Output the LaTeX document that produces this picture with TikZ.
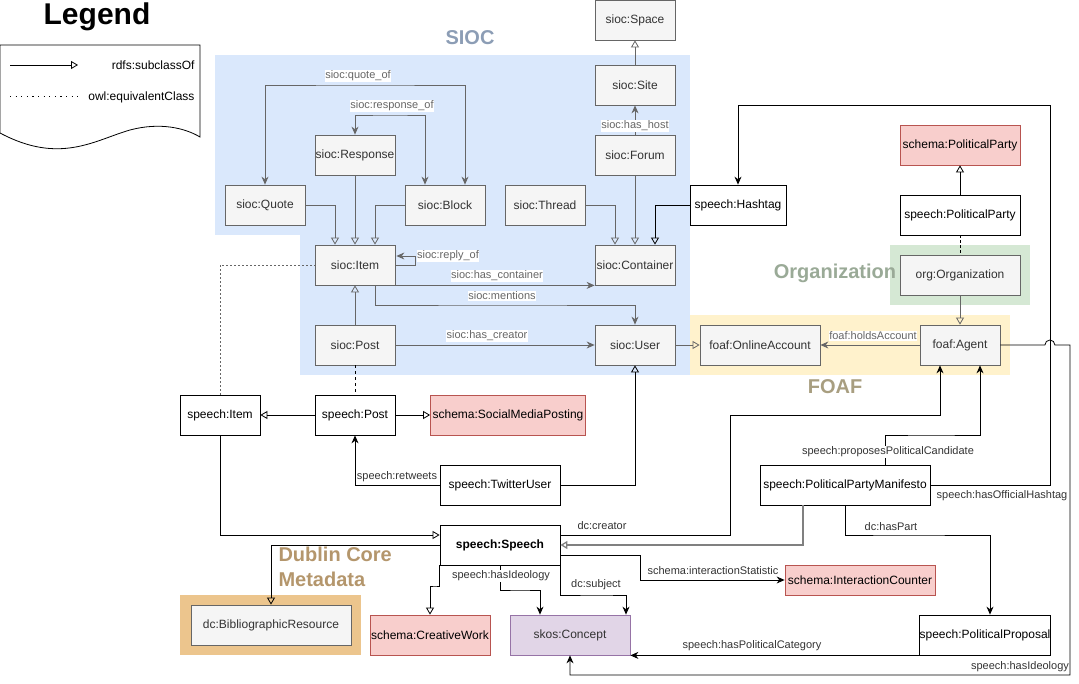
\documentclass[tikz,border=0pt]{standalone}
\usepackage{fontspec}
\setmainfont{Liberation Sans}
\usetikzlibrary{arrows.meta}
\definecolor{siocbg}{HTML}{DAE8FC}
\definecolor{foafbg}{HTML}{FFF2CC}
\definecolor{orgbg}{HTML}{D5E8D4}
\definecolor{dcbg}{RGB}{236,197,141}
\definecolor{gfill}{HTML}{F5F5F5}
\definecolor{gdraw}{HTML}{666666}
\definecolor{gtext}{HTML}{333333}
\definecolor{redfill}{HTML}{F8CECC}
\definecolor{reddraw}{HTML}{B85450}
\definecolor{purfill}{HTML}{E1D5E7}
\definecolor{purdraw}{HTML}{9673A6}
\definecolor{siocttl}{RGB}{140,157,181}
\definecolor{orgttl}{RGB}{154,170,151}
\definecolor{foafttl}{RGB}{168,158,128}
\definecolor{dcttl}{RGB}{180,150,108}
\newcommand{\fsz}[1]{\fontsize{#1}{#1}\selectfont}
\begin{document}
\begin{tikzpicture}[x=1pt,y=-1pt,
  box/.style={draw, minimum width=80pt, minimum height=40pt, inner sep=0pt, font=\fsz{12}, line width=0.8pt},
  siocbox/.style={box, draw=gdraw, fill=gfill, text=gtext},
  spbox/.style={box, draw=black, fill=white, text=black},
  schemabox/.style={box, draw=reddraw, fill=redfill, text=black},
  skosbox/.style={box, draw=purdraw, fill=purfill, text=gtext},
  relg/.style={draw=gdraw, line width=0.8pt, -{Stealth[length=8pt,width=7pt]}},
  relk/.style={draw=black, line width=0.8pt, -{Stealth[length=8pt,width=7pt]}},
  subg/.style={draw=gdraw, line width=0.8pt, -{Triangle[open,length=7pt,width=8pt]}},
  subk/.style={draw=black, line width=0.8pt, -{Triangle[open,length=7pt,width=8pt]}},
  lblg/.style={fill=white, text=gdraw, font=\fsz{11}, inner sep=0.5pt},
  lblk/.style={text=gtext, font=\fsz{11}, inner sep=0.5pt},
  lblkw/.style={lblk, fill=white},
  ttl/.style={font=\bfseries\fsz{20}},
]
\useasboundingbox (0,0) rectangle (1079,684);
% backgrounds
\fill[siocbg] (215,55) rectangle (690,235);
\fill[siocbg] (300,235) rectangle (690,375);
\fill[foafbg] (690,315) rectangle (1010,375);
\fill[orgbg] (890,245) rectangle (1030,305);
\fill[dcbg] (180,595) rectangle (361,655);
\node[ttl, text=siocttl] (tsioc) at (470,38) {SIOC};
\node[ttl, text=orgttl] (torg) at (835,273) {Organization};
\node[ttl, text=foafttl] (tfoaf) at (835,387) {FOAF};
\node[font=\bfseries\fontsize{20}{25}\selectfont, text=dcttl, align=left, anchor=west] (tdc) at (275,567) {Dublin Core\\Metadata};
% legend
\node[font=\bfseries\fsz{30}] (legend) at (97,17) {Legend};
\draw[line width=0.8pt, fill=white] (0,45) -- (200,45) -- (200,137)
  .. controls (185,128) and (160,122) .. (130,130)
  .. controls (95,140) and (60,165) .. (0,133) -- cycle;
\coordinate (l1a) at (10,65); \coordinate (l1b) at (78,65);
\coordinate (l2a) at (10,97); \coordinate (l2b) at (78,97);
\draw[subk] (l1a) -- (l1b);
\draw[line width=1pt, dash pattern=on 1.2pt off 4.4pt] (l2a) -- (l2b);
\node[font=\fsz{12}, anchor=east] (lt1) at (198,65) {rdfs:subclassOf};
\node[font=\fsz{12}, anchor=east] (lt2) at (198,97) {owl:equivalentClass};
% nodes
\node[siocbox] (space) at (635,20) {sioc:Space};
\node[siocbox] (site) at (635,85) {sioc:Site};
\node[siocbox] (forum) at (635,155) {sioc:Forum};
\node[siocbox] (thread) at (545,205) {sioc:Thread};
\node[siocbox] (quote) at (265,205) {sioc:Quote};
\node[siocbox] (response) at (355,155) {sioc:Response};
\node[siocbox] (block) at (445,205) {sioc:Block};
\node[siocbox] (item) at (355,265) {sioc:Item};
\node[siocbox] (container) at (635,265) {sioc:Container};
\node[siocbox] (post) at (355,345) {sioc:Post};
\node[siocbox] (user) at (635,345) {sioc:User};
\node[spbox, minimum width=96pt] (hashtag) at (738,205) {speech:Hashtag};
\node[schemabox, minimum width=120pt] (schpp) at (960,145) {schema:PoliticalParty};
\node[spbox, minimum width=120pt] (spp) at (960,215) {speech:PoliticalParty};
\node[siocbox, minimum width=120pt] (org) at (960,275) {org:Organization};
\node[siocbox, minimum width=120pt] (account) at (760,345) {foaf:OnlineAccount};
\node[siocbox] (agent) at (960,345) {foaf:Agent};
\node[spbox, minimum width=170pt] (manifesto) at (845,485) {speech:PoliticalPartyManifesto};
\node[spbox, minimum width=130pt] (proposal) at (985,635) {speech:PoliticalProposal};
\node[schemabox, minimum width=150pt, minimum height=30pt] (counter) at (860,580) {schema:InteractionCounter};
\node[spbox, minimum width=120pt, font=\bfseries\fsz{12}] (speech) at (500,545) {speech:Speech};
\node[schemabox, minimum width=120pt] (creative) at (430,635) {schema:CreativeWork};
\node[skosbox, minimum width=120pt] (concept) at (570,635) {skos:Concept};
\node[siocbox, minimum width=160pt] (biblio) at (271,625) {dc:BibliographicResource};
\node[spbox] (sitem) at (220,415) {speech:Item};
\node[spbox] (spost) at (355,415) {speech:Post};
\node[schemabox, minimum width=155pt] (smp) at (508,415) {schema:SocialMediaPosting};
\node[spbox, minimum width=120pt] (twitter) at (500,485) {speech:TwitterUser};
% SIOC edges
\draw[subg] (quote.east) -| ([xshift=-20pt]item.north);
\draw[subg] (response.south) -- (item.north);
\draw[subg] (block.west) -| ([xshift=20pt]item.north);
\coordinate (qo) at (365,85);
\coordinate (ro) at (390,115);
\draw[relg, {Stealth[length=8pt,width=7pt]}-{Stealth[length=8pt,width=7pt]}] ([xshift=20pt]block.north) |- (qo) -| (quote.north);
\draw[relg, {Stealth[length=8pt,width=7pt]}-{Stealth[length=8pt,width=7pt]}] ([xshift=-20pt]block.north) |- (ro) -| (response.north);
\node[lblg] (lqo) at (358,76) {sioc:quote\_of};
\node[lblg] (lro) at (392,106) {sioc:response\_of};
\draw[subg] (thread.east) -| ([xshift=-20pt]container.north);
\draw[subg] (forum.south) -- (container.north);
\draw[subk] (hashtag.west) -| ([xshift=20pt]container.north);
\draw[relg] (forum.north) -- (site.south);
\node[lblg] (lhh) at (635,126) {sioc:has\_host};
\draw[subg] (site.north) -- (space.south);
\draw[relg] (item.east) -| ([xshift=20pt,yshift=9pt]item.east) -- ([xshift=1pt,yshift=9pt]item.east);
\node[lblg] (lrep) at (448,256) {sioc:reply\_of};
\draw[relg] (item.south east) -- (container.south west);
\node[lblg] (lhc) at (497,276) {sioc:has\_container};
\coordinate (mn) at (500,305);
\draw[relg] ([xshift=20pt]item.south) |- (mn) -| (user.north);
\node[lblg] (lmn) at (502,296) {sioc:mentions};
\draw[relg] (post.east) -- (user.west);
\node[lblg] (lcr) at (487,336) {sioc:has\_creator};
\draw[subg] (post.north) -- (item.south);
\draw[subg] (user.east) -- (account.west);
% FOAF / org
\draw[relg] (agent.west) -- (account.east);
\node[lblg] (lha) at (873,336) {foaf:holdsAccount};
\draw[subg] (org.south) -- (agent.north);
\draw[line width=0.8pt, dash pattern=on 3pt off 2pt] (spp.south) -- (org.north);
\draw[subk] (spp.north) -- (schpp.south);
% speech edges
\coordinate (hh) at (1050,105);
\draw[relk] (manifesto.east) -| (hh) -| (hashtag.north);
\node[lblk] (lhoh) at (1002,496) {speech:hasOfficialHashtag};
\coordinate (hi1) at (1070,675);
\draw[relk] (agent.east) -- ([xshift=44.5pt]agent.east) arc[start angle=180, end angle=0, radius=5pt] -| (hi1) -| (concept.south);
\node[lblk] (lhi1) at (1020,667) {speech:hasIdeology};
\coordinate (ppc) at (930,435);
\draw[relk] ([xshift=40pt]manifesto.north) |- (ppc) -| ([xshift=20pt]agent.south);
\node[lblkw] (lppc) at (888,452) {speech:proposesPoliticalCandidate};
\coordinate (dcc) at (730,415);
\draw[relk] ([yshift=10pt]speech.east) -| (dcc) -| ([xshift=-20pt]agent.south);
\node[lblk] (ldcc) at (602,526) {dc:creator};
\draw[draw=gray, line width=1.3pt, -{Triangle[open,length=7pt,width=8pt]}] ([xshift=-42pt]manifesto.south) |- (speech.east);
\coordinate (isc) at (640,580);
\draw[relk] ([yshift=-10pt]speech.east) -| (isc) -- (counter.west);
\node[lblk] (lis) at (713,571) {schema:interactionStatistic};
\coordinate (hp) at (900,535);
\draw[relk] (manifesto.south) |- (hp) -| ([xshift=5pt]proposal.north);
\node[lblk] (lhp) at (891,527) {dc:hasPart};
\draw[relk] (proposal.south west) -- (concept.south east);
\node[lblk] (lhpc) at (752,646) {speech:hasPoliticalCategory};
\coordinate (cw) at (435,586);
\draw[subk] (speech.south west) |- (cw) -| (creative.north);
\coordinate (hi2) at (520,590);
\draw[relk] (speech.south) |- (hi2) -| ([xshift=-30pt]concept.north);
\node[lblkw] (lhi2) at (501,576) {speech:hasIdeology};
\coordinate (dsc) at (600,595);
\draw[relk] (speech.south east) |- (dsc) -| ([xshift=56pt]concept.north);
\node[lblk] (lds) at (596,585) {dc:subject};
\draw[subk] (speech.west) -| (biblio.north);
\draw[subk] (sitem.south) |- ([yshift=10pt]speech.west);
\draw[subk] (spost.west) -- (sitem.east);
\draw[subk] (spost.east) -- (smp.west);
\draw[relk] (twitter.west) -| (spost.south);
\node[lblk] (lrt) at (397,477) {speech:retweets};
\draw[subk] (twitter.east) -| (user.south);
\draw[draw=gdraw, line width=0.8pt, dash pattern=on 2pt off 2pt] (sitem.north) |- (item.west);
\draw[line width=0.8pt, dash pattern=on 3pt off 3pt] (post.south) -- (spost.north);
\end{tikzpicture}
\end{document}
